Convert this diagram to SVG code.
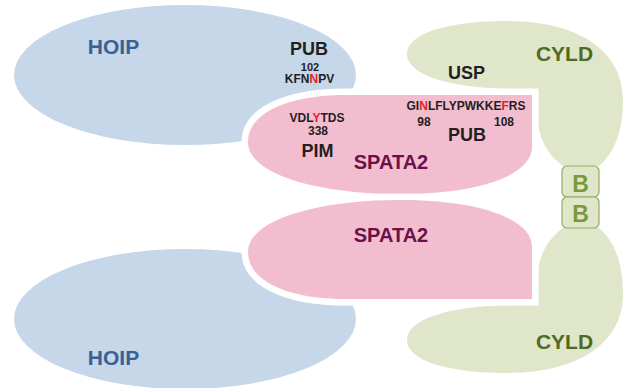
<svg xmlns="http://www.w3.org/2000/svg" width="625" height="388" viewBox="0 0 625 388">
<style>
text{font-family:"Liberation Sans",Arial,sans-serif;font-weight:bold;text-anchor:middle}
.hoip{fill:#c5d7e9}
.cyld{fill:#dfe6ca}
.spata{fill:#f3bdd0;stroke:#ffffff;stroke-width:13;paint-order:stroke}
.bbox{fill:#dfe6ca;stroke:#93ad63;stroke-width:1.2}
.th{fill:#3a6195;font-size:21px}
.tc{fill:#4f6a22;font-size:21px}
.ts{fill:#6b1049;font-size:20px}
.tb{fill:#7a9a3a;font-size:23px}
.k{fill:#231f20}
.r{fill:#e8202a}
</style>
<g id="hoip-top">
<ellipse class="hoip" cx="185" cy="75" rx="171" ry="70"/>
<text class="th" x="113.5" y="54">HOIP</text>
<text class="k" x="309" y="55" font-size="18">PUB</text>
<text class="k" x="310" y="71" font-size="11">102</text>
<text class="k" x="309.5" y="83" font-size="12">KFN<tspan class="r">N</tspan>PV</text>
</g>
<g id="hoip-bottom">
<ellipse class="hoip" cx="185" cy="319" rx="171" ry="70"/>
<text class="th" x="113.5" y="365">HOIP</text>
</g>
<g id="cyld-top">
<path class="cyld" d="M537,91 L520,89 C450,89 407,75 407,54 C407,33 450,21 505,21 C585,21 623,55 623,100 C623,135 612,155 599,166 L563,166 C548,155 538,138 538,118 Z"/>
<text class="k" x="466.5" y="79" font-size="18">USP</text>
<text class="tc" x="564.5" y="61">CYLD</text>
</g>
<g id="cyld-bottom">
<path class="cyld" d="M537,303 L520,305 C450,305 407,319 407,340 C407,361 450,373 505,373 C585,373 623,339 623,294 C623,259 612,239 599,228 L563,228 C548,239 538,256 538,276 Z"/>
<text class="tc" x="564.5" y="349">CYLD</text>
</g>
<g id="b-top">
<rect class="bbox" x="562" y="166" width="37" height="31" rx="5"/>
<text class="tb" x="580.5" y="192">B</text>
</g>
<g id="b-bottom">
<rect class="bbox" x="562" y="197" width="37" height="31" rx="5"/>
<text class="tb" x="580.5" y="222">B</text>
</g>
<g id="spata2-top">
<path class="spata" d="M248,142 C248,112 290,95 345,95 L532,95 L532,147 C532,175 480,194 400,194 C320,194 248,175 248,142 Z"/>
<text class="k" x="466" y="110" font-size="12">GI<tspan class="r">N</tspan>LFLYPWKKE<tspan class="r">F</tspan>RS</text>
<text class="k" x="424" y="126" font-size="12">98</text>
<text class="k" x="504" y="126" font-size="12">108</text>
<text class="k" x="467" y="141" font-size="18">PUB</text>
<text class="k" x="317" y="122" font-size="12">VDL<tspan class="r">Y</tspan>TDS</text>
<text class="k" x="318" y="135" font-size="12">338</text>
<text class="k" x="317.5" y="157" font-size="18">PIM</text>
<text class="ts" x="391" y="169">SPATA2</text>
</g>
<g id="spata2-bottom">
<path class="spata" d="M248,252 C248,282 290,299 345,299 L532,299 L532,247 C532,219 480,200 400,200 C320,200 248,219 248,252 Z"/>
<text class="ts" x="391" y="242">SPATA2</text>
</g>
<g id="connectors"/>
</svg>
